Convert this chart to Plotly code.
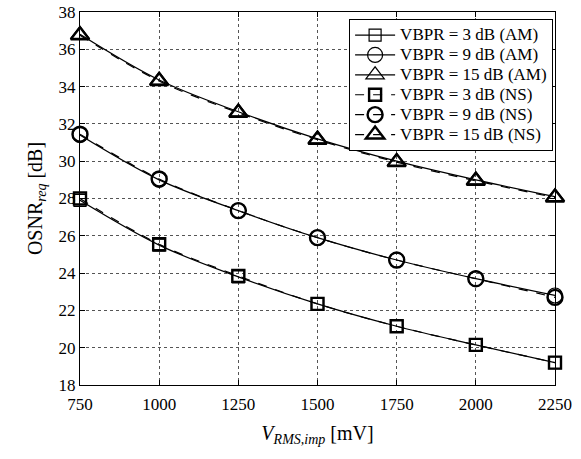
import plotly.graph_objects as go

v_rms = [750, 1000, 1250, 1500, 1750, 2000, 2250]

am_3db = [27.9, 25.5, 23.8, 22.35, 21.15, 20.15, 19.2]
am_9db = [31.4, 29.0, 27.35, 25.9, 24.7, 23.7, 22.8]
am_15db = [36.8, 34.35, 32.65, 31.2, 30.0, 29.0, 28.1]

ns_3db = [28.0, 25.55, 23.85, 22.35, 21.15, 20.15, 19.2]
ns_9db = [31.45, 29.05, 27.35, 25.9, 24.7, 23.7, 22.7]
ns_15db = [36.75, 34.3, 32.6, 31.15, 29.95, 28.95, 28.05]

labels = ["VBPR = 3 dB (AM)", "VBPR = 9 dB (AM)", "VBPR = 15 dB (AM)",
          "VBPR = 3 dB (NS)", "VBPR = 9 dB (NS)", "VBPR = 15 dB (NS)"]

x_ticks = [750, 1000, 1250, 1500, 1750, 2000, 2250]
y_ticks = list(range(18, 39, 2))

series = [
    (labels[0], am_3db, "square-open", "solid", 1.2, 12),
    (labels[1], am_9db, "circle-open", "solid", 1.2, 15),
    (labels[2], am_15db, "triangle-up-open", "solid", 1.2, 16),
    (labels[3], ns_3db, "square-open", "dash", 2.4, 12),
    (labels[4], ns_9db, "circle-open", "dash", 2.4, 15),
    (labels[5], ns_15db, "triangle-up-open", "dash", 2.4, 16),
]

fig = go.Figure()
for name, vals, sym, dash, mlw, msz in series:
    fig.add_trace(go.Scatter(
        x=v_rms, y=vals,
        name="<span style='font-size:17px'>" + name + "</span>",
        mode="lines+markers",
        line=dict(color="black", width=1.2, dash=dash, shape="spline"),
        marker=dict(symbol=sym, size=msz, color="black",
                    line=dict(color="black", width=mlw)),
        cliponaxis=False,
    ))

font_family = "Liberation Serif"
fig.update_layout(
    width=581, height=459, autosize=False,
    margin=dict(l=80, r=26, t=12, b=74, pad=0),
    paper_bgcolor="white", plot_bgcolor="white",
    font=dict(family=font_family, size=17, color="black"),
    showlegend=True,
    legend=dict(x=0.996, y=0.981, xanchor="right", yanchor="top",
                bgcolor="white", bordercolor="black", borderwidth=1,
                font=dict(family=font_family, size=13, color="black"),
                itemwidth=40, tracegroupgap=0),
    xaxis=dict(range=[750, 2250], tickvals=x_ticks,
               ticktext=[str(t) for t in x_ticks], automargin=False,
               showline=True, linecolor="black", linewidth=1, mirror="ticks",
               ticks="inside", ticklen=5, tickcolor="black",
               ticklabelstandoff=4,
               tickfont=dict(family=font_family, size=17),
               showgrid=True, gridcolor="#555", griddash="dot", gridwidth=1,
               zeroline=False,
               title=dict(text="<i>V</i><sub><i>RMS,imp</i></sub> [mV]",
                          font=dict(family=font_family, size=20), standoff=12)),
    yaxis=dict(range=[18, 38], tickvals=y_ticks, automargin=False,
               showline=True, linecolor="black", linewidth=1, mirror="ticks",
               ticks="inside", ticklen=5, tickcolor="black",
               tickfont=dict(family=font_family, size=17),
               showgrid=True, gridcolor="#555", griddash="dot", gridwidth=1,
               zeroline=False,
               title=dict(text="OSNR<sub><i>req</i></sub> [dB]",
                          font=dict(family=font_family, size=20), standoff=10)),
)

fig.write_html("out.html", config={"displayModeBar": False},
               post_script="document.body.style.margin='0';document.body.style.overflow='hidden';")
